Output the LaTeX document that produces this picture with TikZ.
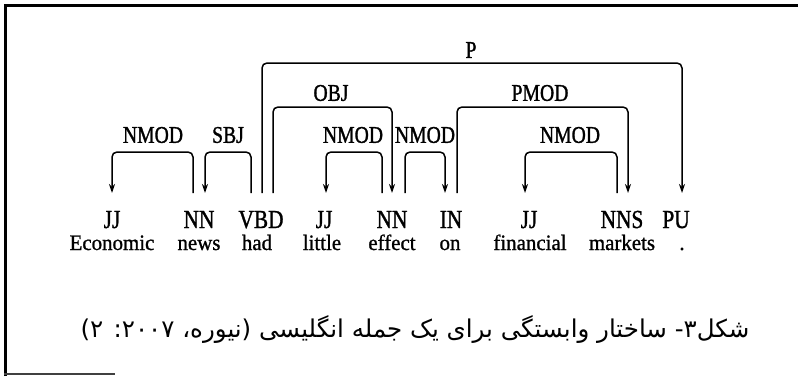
\documentclass[tikz,border=0pt]{standalone}
\usepackage{fontspec}
\setmainfont{Liberation Serif}
\newfontfamily\condfont[FakeStretch=0.82,FakeBold=1.2]{Liberation Serif}
\newfontfamily\wordfont[FakeStretch=0.95,FakeBold=1.0]{Liberation Serif}
\newfontfamily\arabicfont[Script=Arabic]{DejaVu Sans}
\TeXXeTstate=1
\usetikzlibrary{arrows.meta}
\newcommand\deparc[5]{%
  \path ([xshift=#2pt]#1.north) coordinate (da) ([xshift=#4pt]#3.north) coordinate (db);
  \draw[deparrow] (da |- yb) -- (da |- #5) -- (db |- #5) -- (db |- yb);}
\begin{document}
\begin{tikzpicture}[x=1pt,y=-1pt,
  tag/.style={font=\condfont\fontsize{26}{26}\selectfont, anchor=base, inner sep=0pt},
  word/.style={font=\wordfont\fontsize{22}{22}\selectfont, anchor=base, inner sep=0pt},
  lbl/.style={font=\condfont\fontsize{24}{24}\selectfont, inner sep=0pt},
  dep/.style={line width=1.5pt, rounded corners=5pt},
  deparrow/.style={dep, -{Stealth[length=9pt,width=6pt]}}]
\useasboundingbox (0,0) rectangle (798,376);
% frame
\draw[line width=3pt] (5,376) -- (5,5) -- (798,5);
\draw[line width=2pt, black!75] (4,374) -- (115,374);
% level coordinates
\coordinate (yb) at (0,193);
\coordinate (ya) at (0,152);
\coordinate (yc) at (0,107);
\coordinate (yd) at (0,63);
% tags
\node[tag] (t1) at (112,228) {JJ};
\node[tag] (t2) at (199,228) {NN};
\node[tag] (t3) at (261,228) {VBD};
\node[tag] (t4) at (324,228) {JJ};
\node[tag] (t5) at (392,228) {NN};
\node[tag] (t6) at (451,228) {IN};
\node[tag] (t7) at (529,228) {JJ};
\node[tag] (t8) at (622,228) {NNS};
\node[tag] (t9) at (676,228) {PU};
% words
\node[word] (w1) at (112,250) {Economic};
\node[word] (w2) at (199,250) {news};
\node[word] (w3) at (257,250) {had};
\node[word] (w4) at (322,250) {little};
\node[word] (w5) at (392,250) {effect};
\node[word] (w6) at (450,250) {on};
\node[word] (w7) at (530,250) {financial};
\node[word] (w8) at (622,250) {markets};
\node[word] (w9) at (682,250) {.};
% arcs
\deparc{t2}{-6}{t1}{0}{ya}
\deparc{t3}{-10}{t2}{6}{ya}
\deparc{t3}{1}{t9}{6}{yd}
\deparc{t3}{12}{t5}{0}{yc}
\deparc{t5}{-10}{t4}{2}{ya}
\deparc{t5}{13}{t6}{-6}{ya}
\deparc{t6}{6}{t8}{6}{yc}
\deparc{t8}{-5}{t7}{-4}{ya}
% labels
\node[lbl] (l1) at (153,135) {NMOD};
\node[lbl] (l2) at (228,135) {SBJ};
\node[lbl] (l3) at (471,50) {P};
\node[lbl] (l4) at (331,93) {OBJ};
\node[lbl] (l5) at (353,135) {NMOD};
\node[lbl] (l6) at (425,135) {NMOD};
\node[lbl] (l7) at (540,93) {PMOD};
\node[lbl] (l8) at (570,135) {NMOD};
% caption
\node[font=\arabicfont\fontsize{24.5}{28}\selectfont, inner sep=0pt] (cap) at (415,330)
  {\beginR شکل۳- ساختار وابستگی برای یک جمله انگلیسی (نیوره، ۲۰۰۷: ۲)\endR};
\end{tikzpicture}
\end{document}
